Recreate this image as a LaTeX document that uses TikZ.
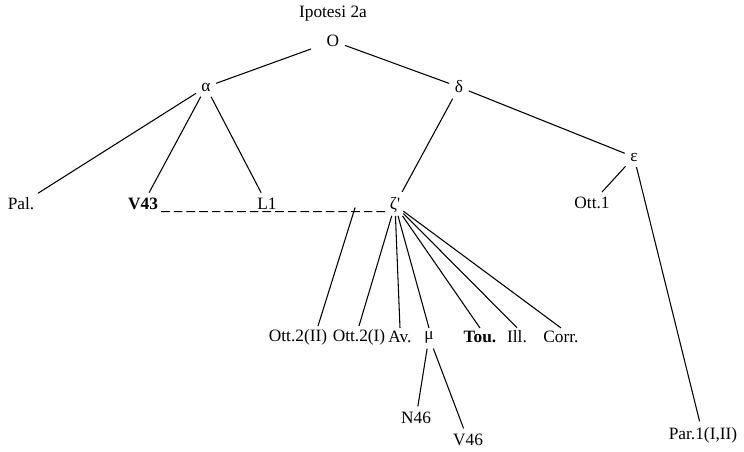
\documentclass[tikz,border=0pt]{standalone}
\usepackage{fontspec}
\setmainfont{Liberation Serif}
\usetikzlibrary{calc}

\tikzset{
  lbl/.style={inner sep=2pt, font=\fontsize{13}{15}\selectfont},
  boldlbl/.style={lbl, font=\fontsize{13}{15}\selectfont\bfseries},
  branch/.style={shorten <=2pt, shorten >=2pt},
  gap/.style={dash pattern=on 6.5pt off 3pt}
}

\begin{document}
\begin{tikzpicture}[x=0.75pt, y=-0.75pt, line width=0.8pt]
  \useasboundingbox (0,0) rectangle (744,451);

  \node[lbl] (title) at (333,14) {Ipotesi 2a};
  \node[lbl] (o) at (333,41) {O};
  \node[lbl] (alpha) at (206,87) {α};
  \node[lbl] (delta) at (459,87) {δ};
  \node[lbl] (eps) at (634,157) {ε};

  \node[lbl] (pal) at (21,204) {Pal.};
  \node[boldlbl] (v43) at (143,204) {V43};
  \node[lbl] (l1) at (267,204) {L1};
  \node[lbl] (zeta) at (395,205) {ζ\textquotesingle};
  \node[lbl] (ott1) at (592,203) {Ott.1};

  \node[lbl] (ott2ii) at (298,337) {Ott.2(II)};
  \node[lbl] (ott2i) at (359,337) {Ott.2(I)};
  \node[lbl] (av) at (400,337) {Av.};
  \node[lbl] (mu) at (429,337) {μ};
  \node[boldlbl] (tou) at (480,337) {Tou.};
  \node[lbl] (ill) at (517,337) {Ill.};
  \node[lbl] (corr) at (561,337) {Corr.};

  \node[lbl] (n46) at (416,418) {N46};
  \node[lbl] (v46) at (468,440) {V46};
  \node[lbl] (par) at (703,435) {Par.1(I,II)};

  \draw[branch, shorten <=10pt] (o) -- (alpha);
  \draw[branch] (o) -- (delta);
  \draw[branch] (alpha) -- (pal);
  \draw[branch] (alpha) -- (v43);
  \draw[branch] (alpha) -- (l1);
  \draw[branch] (delta) -- (zeta);
  \draw[branch] (delta) -- (eps);
  \draw[branch] (eps) -- (ott1);
  \draw[branch] (eps) -- (par);

  \draw[gap] ([yshift=-1.5pt]v43.base east) -- ([yshift=-1.5pt]zeta.base west);
  \coordinate (split) at ($(v43.base east)!0.86!(zeta.base west)+(0,1.5pt)$);
  \draw (split) -- ([xshift=15pt]ott2ii.north);

  \foreach \leaf in {ott2i, av, mu, tou, ill, corr}
    \draw (zeta) -- (\leaf.north);

  \draw[branch] (mu) -- (n46);
  \draw[branch] (mu) -- (v46);
\end{tikzpicture}
\end{document}
